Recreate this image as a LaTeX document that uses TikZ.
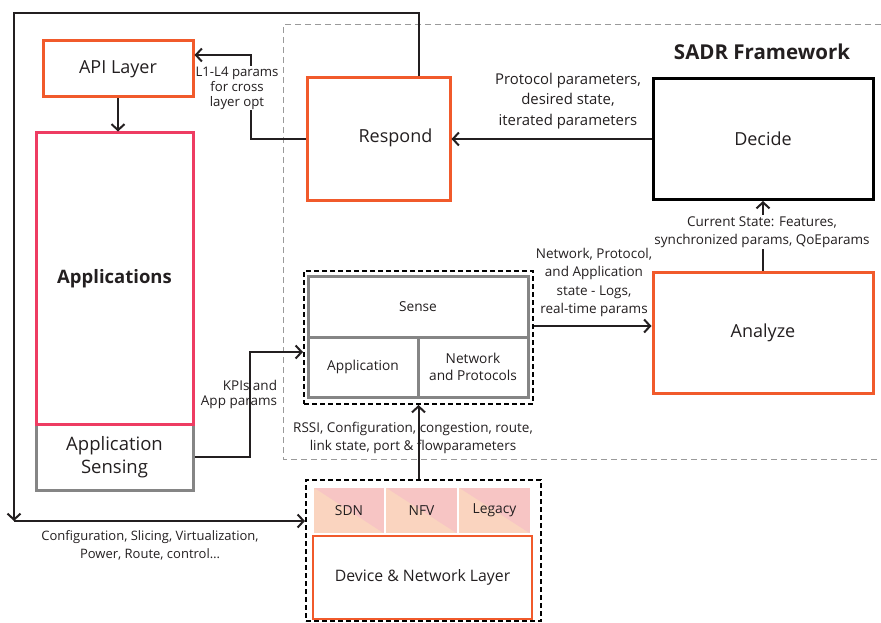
\documentclass[tikz,border=0pt]{standalone}
\usepackage{fontspec}
\setmainfont{Open Sans}
\usetikzlibrary{arrows.meta,positioning,calc}

\definecolor{sadrorange}{HTML}{F15A2B}
\definecolor{apppink}{HTML}{EE3C62}
\definecolor{sensegray}{HTML}{858585}
\definecolor{framegray}{HTML}{9A9A9A}
\definecolor{cellpeach}{HTML}{FAD4BF}
\definecolor{cellpink}{HTML}{F7C5C4}
\definecolor{inkgray}{HTML}{231F20}

\tikzset{
    box/.style={draw, line width=3pt, inner sep=0pt, align=center, text=inkgray},
    orangebox/.style={box, draw=sadrorange},
    bigtext/.style={font=\fontsize{18}{23}\selectfont},
    smalltext/.style={font=\fontsize{13.5}{18}\selectfont, text=inkgray, align=center, inner sep=1pt},
    sensebox/.style={box, draw=sensegray, font=\fontsize{13.7}{17.7}\selectfont},
    groupbox/.style={draw=black, line width=2pt, dash pattern=on 5pt off 3pt, inner sep=0pt},
    cell/.style={fill=cellpeach, draw=white, line width=1.5pt, inner sep=0pt,
        minimum height=47pt, text=inkgray, font=\fontsize{13.8}{17}\selectfont,
        path picture={\fill[cellpink] (path picture bounding box.north west)
            -- (path picture bounding box.north east)
            -- (path picture bounding box.south east) -- cycle;}},
    flow/.style={-{Straight Barb[length=6pt,width=13pt]}, line width=2pt, draw=inkgray},
}

\begin{document}
\begin{tikzpicture}[x=1pt, y=-1pt]
    \useasboundingbox (0,0) rectangle (881,623);

    % SADR Framework frame
    \draw[framegray, line width=1pt, dash pattern=on 6pt off 4pt] (881,25) -- (283,25) -- (283,459) -- (881,459);
    \node[font=\bfseries\fontsize{20.5}{24}\selectfont, text=inkgray] (sadr) at (762,52) {SADR Framework};

    % Left column
    \node[orangebox, bigtext, minimum width=150pt, minimum height=56pt] (api) at (118,69) {API Layer};
    \node[box, draw=sensegray, font=\fontsize{18.5}{23}\selectfont, minimum width=157pt, minimum height=66pt] (appsense) at (114.5,457) {Application\\Sensing};
    \node[box, draw=apppink, font=\bfseries\fontsize{18.5}{23}\selectfont, minimum width=157pt, minimum height=291pt] (apps) at (114.5,278.5) {Applications};

    % Respond / Decide / Analyze
    \node[orangebox, minimum width=143pt, minimum height=122pt,
        label={[bigtext, text=inkgray, xshift=17pt, yshift=1pt]center:Respond}] (respond) at (378.5,139) {};
    \node[box, draw=black, bigtext, minimum width=220pt, minimum height=121pt] (decide) at (763,139) {Decide};
    \node[orangebox, bigtext, minimum width=220pt, minimum height=121pt] (analyze) at (763,332.5) {Analyze};

    % Sense block
    \node[groupbox, minimum width=229pt, minimum height=133pt] (sensegrp) at (418.5,337.5) {};
    \node[sensebox, minimum width=220pt, minimum height=61pt] (sense) at (418,306.5) {Sense};
    \node[sensebox, minimum width=110pt, minimum height=60pt] (appl) at (363,367) {Application};
    \node[sensebox, minimum width=110pt, minimum height=60pt] (netp) at (473,367) {Network\\and Protocols};

    % Device & Network Layer
    \node[groupbox, minimum width=235pt, minimum height=141pt] (devgrp) at (423.5,550.5) {};
    \node[cell, minimum width=72pt] (sdn) at (349,510.5) {SDN};
    \node[cell, minimum width=73pt] (nfv) at (421.5,510.5) {NFV};
    \node[cell, minimum width=73pt] (legacy) at (494.5,510.5) {Legacy};
    \node[box, draw=sadrorange, line width=2pt, font=\fontsize{15.8}{19}\selectfont, minimum width=219pt, minimum height=83pt] (devlayer) at (422.5,577.5) {Device \& Network Layer};

    % Connectors
    \draw[flow] (api.south) -- (api.south |- apps.north);
    \draw[flow] (respond.west) -- ++(-55,0) |- ([yshift=14pt]api.east);
    \node[smalltext, font=\fontsize{13.2}{15}\selectfont, fill=white] (l1lbl) at (237,88) {L1-L4 params\\for cross\\layer opt};

    \coordinate (looptop) at (14,13);
    \coordinate (loopbot) at (14,521);
    \draw[flow] ([xshift=40pt]respond.north) |- (looptop) -- (loopbot);
    \draw[flow] (loopbot) -- (loopbot -| devgrp.west);
    \node[smalltext, font=\fontsize{13}{18}\selectfont] (cfglbl) at (150,545) {Configuration, Slicing, Virtualization,\\Power, Route, control…};

    \draw[flow] (appsense.east) -- ++(55,0) |- ([yshift=-14.5pt]sensegrp.west);
    \node[smalltext, font=\fontsize{13.5}{15}\selectfont, align=right] (kpilbl) at (239,394) {KPIs and\\App params};

    \draw[flow] (decide.west) -- (decide.west -| respond.east);
    \node[smalltext, font=\fontsize{14.9}{20.5}\selectfont] (decidelbl) at (568,101) {Protocol parameters,\\desired state,\\iterated parameters};

    \draw[flow] (analyze.north) -- (decide.south);
    \node[smalltext, fill=white] (statelbl) at (762,232) {Current State: Features,\\synchronized params, QoEparams};

    \draw[flow] ([yshift=11.5pt]sensegrp.east) coordinate (sg) -- (sg -| analyze.west);
    \node[smalltext, font=\fontsize{13.5}{18.5}\selectfont] (netlbl) at (594,282.5) {Network, Protocol,\\and Application\\state - Logs,\\real-time params};

    \draw[flow] (sensegrp.south |- devgrp.north) -- (sensegrp.south);
    \node[smalltext] (rssilbl) at (413,438) {RSSI, Configuration, congestion, route,\\link state, port \& flowparameters};
\end{tikzpicture}
\end{document}
